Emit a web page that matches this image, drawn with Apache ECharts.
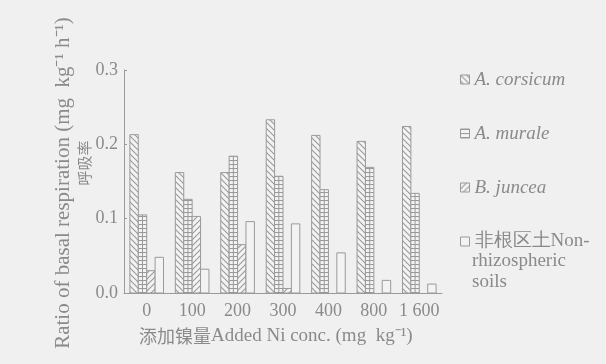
<!DOCTYPE html>
<html><head><meta charset="utf-8">
<script src="https://cdn.jsdelivr.net/npm/echarts@6/dist/echarts.min.js"></script>
<style>html,body{margin:0;padding:0;background:#f0f0f0}#c{width:606px;height:364px}</style>
</head><body><div id="c"></div>
<script>
// ---- data ----
const categories = ['0', '100', '200', '300', '400', '800', '1 600'];
const seriesNames = ['A. corsicum', 'A. murale', 'B. juncea', '非根区土Non-'];
const corsicum = [0.213, 0.162, 0.162, 0.233, 0.212, 0.204, 0.224];
const murale = [0.105, 0.126, 0.184, 0.157, 0.139, 0.169, 0.134];
const juncea = [0.030, 0.103, 0.065, 0.006, null, null, null];
const soil = [0.048, 0.032, 0.096, 0.093, 0.054, 0.017, 0.012];
const yTicks = ['0.0', '0.1', '0.2', '0.3'];

const LINE = '#9a9a9a', TEXT = '#8a8a8a', BG = '#f0f0f0', FILL = '#f3f3f3';
const SERIF = '"Liberation Serif", "Times New Roman", serif';
const CJK = '"Noto Sans CJK SC", sans-serif';

function makePattern(kind) {
  const s = kind === 'h' ? 4 : 6;
  const c = document.createElement('canvas');
  c.width = s; c.height = s;
  const g = c.getContext('2d');
  g.fillStyle = FILL; g.fillRect(0, 0, s, s);
  g.strokeStyle = LINE; g.lineWidth = 1.1;
  g.beginPath();
  if (kind === 'back') { g.moveTo(-1, -1); g.lineTo(s + 1, s + 1); g.moveTo(-1, s - 1); g.lineTo(1, s + 1); g.moveTo(s - 1, -1); g.lineTo(s + 1, 1); }
  else if (kind === 'fwd') { g.moveTo(-1, s + 1); g.lineTo(s + 1, -1); g.moveTo(-1, 1); g.lineTo(1, -1); g.moveTo(s - 1, s + 1); g.lineTo(s + 1, s - 1); }
  else if (kind === 'h') { g.moveTo(0, 0.5); g.lineTo(s, 0.5); }
  g.stroke();
  return { image: c, repeat: 'repeat' };
}
const fills = [makePattern('back'), makePattern('h'), makePattern('fwd'), FILL];
const valueSets = [corsicum, murale, juncea, soil];

function renderFor(slot) {
  return function (params, api) {
    const ci = api.value(0), v = api.value(1);
    const base = api.coord([ci, 0]);
    const top = api.coord([ci, v]);
    const band = api.size([1, 0])[0];
    const groupW = band * 0.74;
    const bw = groupW / 4;
    const x0 = base[0] - groupW / 2 + slot * bw;
    const children = [{
      type: 'rect',
      shape: { x: x0, y: top[1], width: bw, height: base[1] - top[1] },
      style: { fill: fills[slot], stroke: LINE, lineWidth: 1 }
    }];
    if (slot === 1) {
      children.push({ type: 'line', shape: { x1: x0 + bw / 2, y1: top[1], x2: x0 + bw / 2, y2: base[1] }, style: { stroke: LINE, lineWidth: 1 } });
    }
    return { type: 'group', children };
  };
}

const series = valueSets.map((vals, slot) => ({
  name: seriesNames[slot],
  type: 'custom',
  renderItem: renderFor(slot),
  itemStyle: { color: fills[slot], borderColor: LINE },
  data: vals.map((v, i) => [i, v]).filter(d => d[1] !== null)
}));

const chart = echarts.init(document.getElementById('c'), null, { renderer: 'canvas' });
chart.setOption({
  backgroundColor: BG,
  animation: false,
  grid: { left: 124, right: 164, top: 70, bottom: 71 },
  xAxis: {
    type: 'category', data: categories,
    axisLine: { lineStyle: { color: LINE, width: 1 } },
    axisTick: { inside: true, length: 3, lineStyle: { color: LINE } },
    axisLabel: { color: TEXT, fontFamily: SERIF, fontSize: 18, margin: 9, interval: 0 }
  },
  yAxis: {
    type: 'value', min: 0, max: 0.3, interval: 0.1,
    splitLine: { show: false },
    axisLine: { show: true, lineStyle: { color: LINE, width: 1 } },
    axisTick: { show: true, inside: true, length: 3, lineStyle: { color: LINE } },
    axisLabel: { color: TEXT, fontFamily: SERIF, fontSize: 18, margin: 6,
      formatter: (v) => yTicks[Math.round(v * 10)] }
  },
  legend: {
    orient: 'vertical', left: 455, top: 65,
    itemWidth: 9, itemHeight: 9, itemGap: 35,
    textStyle: { color: TEXT, fontFamily: SERIF, fontSize: 19, fontStyle: 'italic' },
    data: seriesNames.map((n, i) => ({
      name: n, icon: 'rect',
      itemStyle: { color: fills[i], borderColor: LINE, borderWidth: 1 },
      textStyle: i === 3 ? { fontStyle: 'normal', fontFamily: SERIF } : undefined
    }))
  },
  graphic: [
    { type: 'text', left: 472, top: 251, style: { text: 'rhizospheric\nsoils', fill: TEXT, font: '19px ' + SERIF, lineHeight: 21 } },
    { type: 'text', x: 63, y: 183, rotation: Math.PI / 2,
      style: { text: 'Ratio of basal respiration (mg  kg⁻¹ h⁻¹)', fill: TEXT, font: '21px ' + SERIF, align: 'center', verticalAlign: 'middle' } },
    { type: 'text', x: 84, y: 163, rotation: Math.PI / 2,
      style: { text: '呼吸率', fill: TEXT, font: '15px ' + CJK, align: 'center', verticalAlign: 'middle' } },
    { type: 'text', left: 139, top: 327,
      style: { rich: { c: { fontFamily: CJK, fontSize: 18, fill: TEXT }, e: { fontFamily: SERIF, fontSize: 19, fill: TEXT } },
        text: '{c|添加镍量}{e|Added Ni conc. (mg  kg⁻¹)}' } }
  ],
  series
});
</script></body></html>
